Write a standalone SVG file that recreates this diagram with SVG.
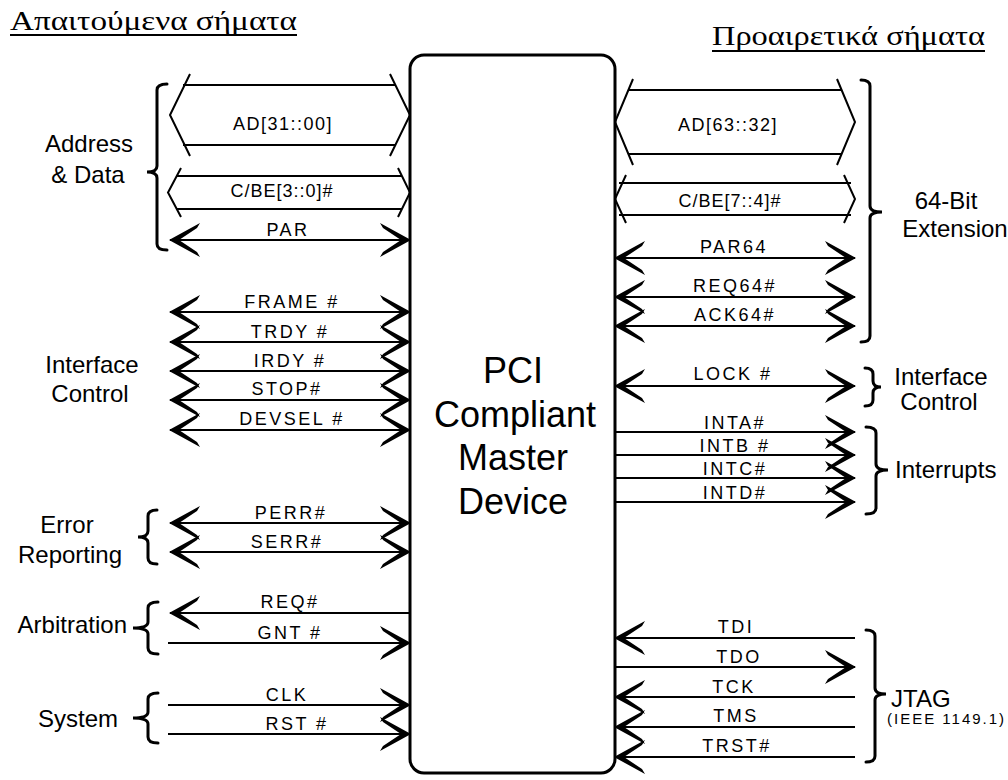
<svg xmlns="http://www.w3.org/2000/svg" width="1008" height="780" viewBox="0 0 1008 780">
<style>
.bg{fill:#fff}
.box{fill:none;stroke:#000;stroke-width:3}
.w{fill:none;stroke:#000;stroke-width:2}
.bus{fill:none;stroke:#000;stroke-width:2;stroke-linejoin:miter}
.br{fill:none;stroke:#000;stroke-width:3;stroke-linecap:round}
.sig{font-family:"Liberation Sans",Arial,sans-serif;font-size:18px;letter-spacing:2.5px;text-anchor:middle;fill:#000}
.grp{font-family:"Liberation Sans",Arial,sans-serif;font-size:24px;fill:#000}
.mid{text-anchor:middle}
.end{text-anchor:end}
.main{font-family:"Liberation Sans",Arial,sans-serif;font-size:36px;text-anchor:middle;fill:#000}
.ttl{font-family:"Liberation Serif","Times New Roman",serif;font-size:27px;fill:#000}
.ul{stroke:#000;stroke-width:2}
.small{font-family:"Liberation Sans",Arial,sans-serif;font-size:15px;letter-spacing:2px;fill:#000}
</style>
<defs>
<marker id="ah" markerUnits="userSpaceOnUse" viewBox="-34 -20 36 40" markerWidth="36" markerHeight="40" refX="0" refY="0" orient="auto-start-reverse" overflow="visible">
<path d="M1,0 L-30,-17 L-27,-12 L-9,0 L-27,12 L-30,17 Z" fill="#000"/>
</marker>
</defs>
<rect class="bg" x="0" y="0" width="1008" height="780"/>

<g id="titles">
<text class="ttl" x="10" y="30" textLength="287" lengthAdjust="spacingAndGlyphs">Απαιτούμενα σήματα</text>
<line class="ul" x1="10" y1="35" x2="297" y2="35"/>
<text class="ttl" x="712" y="45" textLength="273" lengthAdjust="spacingAndGlyphs">Προαιρετικά σήματα</text>
<line class="ul" x1="712" y1="51" x2="985" y2="51"/>
</g>

<g id="device">
<rect class="box" x="410" y="55" width="205" height="718" rx="14"/>
<text class="main" x="513" y="383">PCI</text>
<text class="main" x="515" y="427">Compliant</text>
<text class="main" x="513" y="470">Master</text>
<text class="main" x="513" y="514">Device</text>
</g>

<g id="connectors">
<path class="bus" d="M183,85 H396 M183,145 H396 M190,74 L170,115 L190,156 M390,74 L410,115 L390,156"/>
<path class="bus" d="M176,176 H402 M176,209 H402 M181,168 L168,192.5 L181,217 M398,168 L410,192.5 L398,217"/>
<line class="w" x1="170" y1="240" x2="410" y2="240" marker-start="url(#ah)" marker-end="url(#ah)"/>
<line class="w" x1="170" y1="312" x2="410" y2="312" marker-start="url(#ah)" marker-end="url(#ah)"/>
<line class="w" x1="170" y1="342" x2="410" y2="342" marker-start="url(#ah)" marker-end="url(#ah)"/>
<line class="w" x1="170" y1="371" x2="410" y2="371" marker-start="url(#ah)" marker-end="url(#ah)"/>
<line class="w" x1="170" y1="400" x2="410" y2="400" marker-start="url(#ah)" marker-end="url(#ah)"/>
<line class="w" x1="170" y1="430" x2="410" y2="430" marker-start="url(#ah)" marker-end="url(#ah)"/>
<line class="w" x1="170" y1="523" x2="410" y2="523" marker-start="url(#ah)" marker-end="url(#ah)"/>
<line class="w" x1="170" y1="552" x2="410" y2="552" marker-start="url(#ah)" marker-end="url(#ah)"/>
<line class="w" x1="170" y1="613" x2="410" y2="613" marker-start="url(#ah)"/>
<line class="w" x1="168" y1="643" x2="410" y2="643" marker-end="url(#ah)"/>
<line class="w" x1="168" y1="705" x2="410" y2="705" marker-end="url(#ah)"/>
<line class="w" x1="168" y1="734" x2="410" y2="734" marker-end="url(#ah)"/>
<path class="bus" d="M629,90 H841 M629,154 H841 M633,79 L615,122 L633,165 M837,79 L855,122 L837,165"/>
<path class="bus" d="M619,183 H851 M619,215 H851 M626,175 L615,199 L626,223 M844,175 L855,199 L844,223"/>
<line class="w" x1="615" y1="258" x2="855" y2="258" marker-start="url(#ah)" marker-end="url(#ah)"/>
<line class="w" x1="615" y1="297" x2="855" y2="297" marker-start="url(#ah)" marker-end="url(#ah)"/>
<line class="w" x1="615" y1="326" x2="855" y2="326" marker-start="url(#ah)" marker-end="url(#ah)"/>
<line class="w" x1="615" y1="386" x2="855" y2="386" marker-start="url(#ah)" marker-end="url(#ah)"/>
<line class="w" x1="615" y1="432" x2="855" y2="432" marker-end="url(#ah)"/>
<line class="w" x1="615" y1="455" x2="855" y2="455" marker-end="url(#ah)"/>
<line class="w" x1="615" y1="478" x2="855" y2="478" marker-end="url(#ah)"/>
<line class="w" x1="615" y1="502" x2="855" y2="502" marker-end="url(#ah)"/>
<line class="w" x1="615" y1="638" x2="855" y2="638" marker-start="url(#ah)"/>
<line class="w" x1="615" y1="667" x2="855" y2="667" marker-end="url(#ah)"/>
<line class="w" x1="615" y1="697" x2="855" y2="697" marker-start="url(#ah)"/>
<line class="w" x1="615" y1="727" x2="855" y2="727" marker-start="url(#ah)"/>
<line class="w" x1="615" y1="757" x2="855" y2="757" marker-start="url(#ah)"/>
</g>

<g id="signal-labels">
<text class="sig" x="283" y="130" style="letter-spacing:1.5px">AD[31::00]</text>
<text class="sig" x="282" y="197" style="letter-spacing:1px">C/BE[3::0]#</text>
<text class="sig" x="288" y="236">PAR</text>
<text class="sig" x="292" y="308">FRAME #</text>
<text class="sig" x="290" y="338">TRDY #</text>
<text class="sig" x="290" y="367">IRDY #</text>
<text class="sig" x="287" y="395">STOP#</text>
<text class="sig" x="292" y="425">DEVSEL #</text>
<text class="sig" x="291" y="519">PERR#</text>
<text class="sig" x="287" y="548">SERR#</text>
<text class="sig" x="290" y="608">REQ#</text>
<text class="sig" x="290" y="639">GNT #</text>
<text class="sig" x="287" y="701">CLK</text>
<text class="sig" x="297" y="730">RST #</text>
<text class="sig" x="728" y="131" style="letter-spacing:1.5px">AD[63::32]</text>
<text class="sig" x="730" y="207" style="letter-spacing:1px">C/BE[7::4]#</text>
<text class="sig" x="734" y="253">PAR64</text>
<text class="sig" x="735" y="292">REQ64#</text>
<text class="sig" x="735" y="321">ACK64#</text>
<text class="sig" x="733" y="380">LOCK #</text>
<text class="sig" x="735" y="429">INTA#</text>
<text class="sig" x="735" y="452">INTB #</text>
<text class="sig" x="735" y="475">INTC#</text>
<text class="sig" x="735" y="499">INTD#</text>
<text class="sig" x="736" y="633">TDI</text>
<text class="sig" x="739" y="663">TDO</text>
<text class="sig" x="734" y="693">TCK</text>
<text class="sig" x="736" y="722">TMS</text>
<text class="sig" x="737" y="752">TRST#</text>
</g>

<g id="group-address-data">
<path class="br" d="M167,84 Q157,84 157,90 V166 Q157,172 147,172 Q157,172 157,178 V244 Q157,250 167,250"/>
<text class="grp mid" x="89" y="152">Address</text>
<text class="grp mid" x="88" y="183">&amp; Data</text>
</g>
<g id="group-interface-control-left">
<text class="grp mid" x="92" y="373">Interface</text>
<text class="grp mid" x="90" y="402">Control</text>
</g>
<g id="group-error-reporting">
<path class="br" d="M157,510 Q148,510 148,516 V531 Q148,537 138,537 Q148,537 148,543 V558 Q148,564 157,564"/>
<text class="grp mid" x="67" y="533">Error</text>
<text class="grp mid" x="70" y="563">Reporting</text>
</g>
<g id="group-arbitration">
<path class="br" d="M158,602 Q148,602 148,608 V622 Q148,628 133,628 Q148,628 148,634 V648 Q148,654 158,654"/>
<text class="grp end" x="127" y="633">Arbitration</text>
</g>
<g id="group-system">
<path class="br" d="M158,693 Q148,693 148,699 V712 Q148,718 133,718 Q148,718 148,724 V737 Q148,743 158,743"/>
<text class="grp end" x="118" y="727">System</text>
</g>
<g id="group-64bit">
<path class="br" d="M861,80 Q870,80 870,86 V206 Q870,212 882,212 Q870,212 870,218 V336 Q870,342 861,342"/>
<text class="grp mid" x="946" y="209">64-Bit</text>
<text class="grp mid" x="955" y="237">Extension</text>
</g>
<g id="group-interface-control-right">
<path class="br" d="M865,368 Q873,368 873,374 V381 Q873,387 881,387 Q873,387 873,393 V400 Q873,406 865,406"/>
<text class="grp mid" x="941" y="385">Interface</text>
<text class="grp mid" x="939" y="410">Control</text>
</g>
<g id="group-interrupts">
<path class="br" d="M866,427 Q876,427 876,433 V464 Q876,470 888,470 Q876,470 876,476 V508 Q876,514 866,514"/>
<text class="grp" x="895" y="478">Interrupts</text>
</g>
<g id="group-jtag">
<path class="br" d="M866,630 Q875,630 875,636 V688 Q875,694 886,694 Q875,694 875,700 V756 Q875,762 866,762"/>
<text class="grp" x="891" y="707">JTAG</text>
<text class="small" x="887" y="724">(IEEE 1149.1)</text>
</g>
</svg>
